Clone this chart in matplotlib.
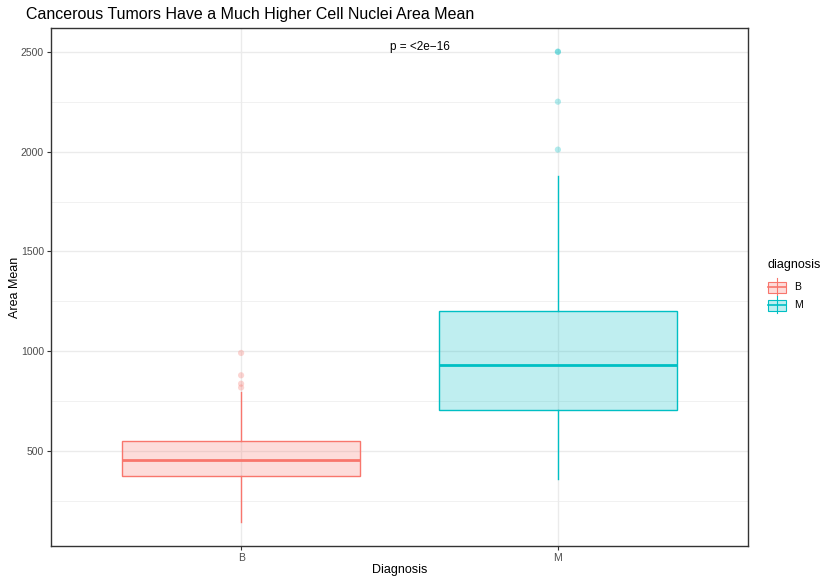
import matplotlib
matplotlib.use("Agg")
import matplotlib.pyplot as plt
from matplotlib.patches import Rectangle
from matplotlib.lines import Line2D
from matplotlib.colors import to_rgba

plt.rcParams['font.family'] = ['Liberation Sans', 'DejaVu Sans']

# ---- data ----
categories = ["B", "M"]
colors = ["#F8766D", "#00BFC4"]
q1 = [378.2, 705.3]
median = [458.4, 932.0]
q3 = [551.1, 1203.8]
whisker_low = [143.5, 361.6]
whisker_high = [796.0, 1878.0]
outliers_B = [992.1, 880.2, 838.0, 819.0]
outliers_M = [2501.0, 2499.0, 2250.0, 2010.0]
outliers = [outliers_B, outliers_M]
p_label = "p = <2e\u221216"
yticks = [500, 1000, 1500, 2000, 2500]
yminor = [250, 750, 1250, 1750, 2250]

W, H = 823, 577
fig = plt.figure(figsize=(W/100, H/100), dpi=100)
L, R, B_, T = 51, 748, 546, 28
ax = fig.add_axes([L/W, 1-B_/H, (R-L)/W, (B_-T)/H])

stats = []
for i, c in enumerate(categories):
    stats.append(dict(q1=q1[i], med=median[i], q3=q3[i], whislo=whisker_low[i],
                      whishi=whisker_high[i], fliers=[], label=c))

for i, s in enumerate(stats):
    col = colors[i]
    ax.bxp([s], positions=[i+1], widths=0.75, patch_artist=True, showcaps=False,
           showfliers=False, manage_ticks=False,
           boxprops=dict(facecolor=to_rgba(col, 0.25), edgecolor=col, linewidth=1.0),
           whiskerprops=dict(color=col, linewidth=1.0),
           medianprops=dict(color=col, linewidth=2.0), zorder=3)
    ax.scatter([i+1]*len(outliers[i]), outliers[i], s=20, color=col, alpha=0.3,
               edgecolors='none', zorder=4)

lo = 143.5; hi = 2501.0
pad = (hi-lo)*0.05
ax.set_ylim(lo-pad, hi+pad)
ax.set_xlim(0.4, 2.6)
ax.set_xticks([1, 2])
ax.set_xticklabels(categories)
ax.set_yticks(yticks)
ax.set_yticks(yminor, minor=True)
ax.tick_params(axis='both', which='major', labelsize=7.5, labelcolor='#4D4D4D',
               color='#333333', length=3, width=0.8, pad=2)
ax.tick_params(axis='y', which='minor', length=0)
ax.grid(True, which='major', color='#EBEBEB', linewidth=1.0, zorder=0)
ax.grid(True, which='minor', axis='y', color='#EBEBEB', linewidth=0.5, zorder=0)
ax.set_axisbelow(True)
for sp in ax.spines.values():
    sp.set_color('#333333')
    sp.set_linewidth(1.0)

ax.text(1.565, 2522, p_label, ha='center', va='center', fontsize=8.5, color='black')

fig.text((L+R)/2/W, 1-570/H, "Diagnosis", fontsize=9, ha='center', va='center')
fig.text(15/W, 1-(T+B_)/2/H, "Area Mean", fontsize=9, ha='center', va='center', rotation=90)
fig.text(26/W, 1-14/H, "Cancerous Tumors Have a Much Higher Cell Nuclei Area Mean",
         fontsize=11.5, ha='left', va='center')

# legend
fig.text(767/W, 1-265/H, "diagnosis", fontsize=9, ha='left', va='center')
for i, c in enumerate(categories):
    cy = 287 + i*18
    col = colors[i]
    fig.add_artist(Line2D([776.5/W, 776.5/W], [1-(cy-9)/H, 1-(cy+8)/H], color=col, lw=0.8))
    fig.add_artist(Rectangle((767.5/W, 1-(cy+5.5)/H), 18/W, 11/H, facecolor=to_rgba(col, 0.25),
                             edgecolor=col, lw=0.8))
    fig.add_artist(Line2D([767.5/W, 785.5/W], [1-cy/H, 1-cy/H], color=col, lw=1.2))
    fig.text(794/W, 1-cy/H, c, fontsize=7.5, ha='left', va='center')

fig.savefig("out.png", dpi=100)
